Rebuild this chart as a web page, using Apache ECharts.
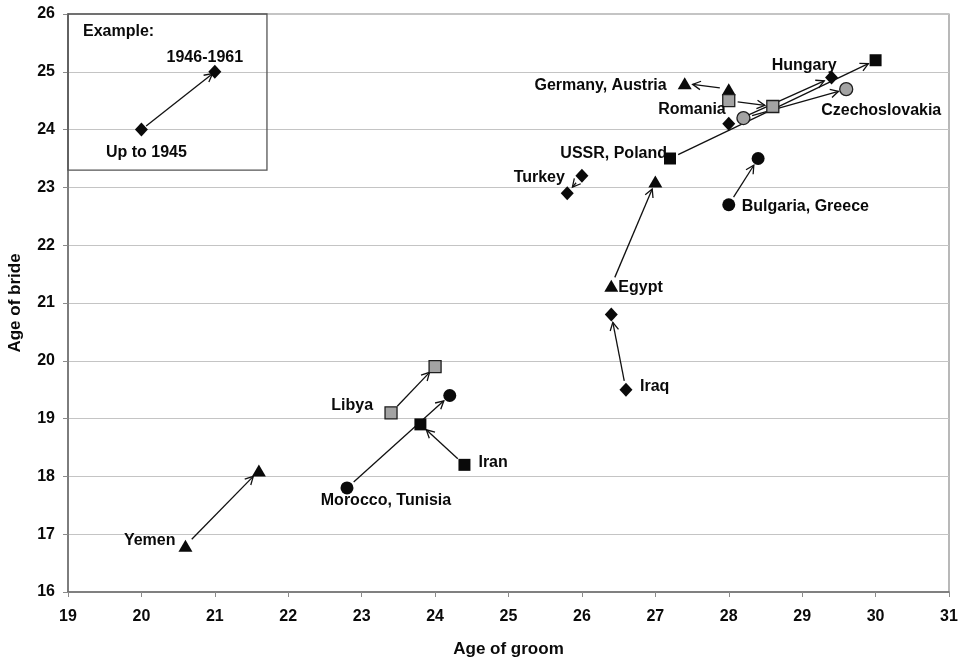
<!DOCTYPE html>
<html>
<head>
<meta charset="utf-8">
<title>Age at marriage of grooms and brides</title>
<script src="https://cdn.jsdelivr.net/npm/echarts@6/dist/echarts.min.js"></script>
<style>
  html, body { margin: 0; padding: 0; background: #fff; }
  #chart { width: 966px; height: 660px; }
</style>
</head>
<body>
<div id="chart"></div>
<script>
// Countries of origin and mean age at first marriage, up to 1945 and 1946-1961
const countries = ['Yemen', 'Morocco, Tunisia', 'Libya', 'Iran', 'Iraq', 'Egypt', 'Turkey',
  'USSR, Poland', 'Bulgaria, Greece', 'Germany, Austria', 'Romania', 'Hungary', 'Czechoslovakia'];
const groomUpTo1945 = [20.6, 22.8, 23.4, 24.4, 26.6, 26.4, 26.0, 27.2, 28.0, 28.0, 28.0, 28.0, 28.2];
const brideUpTo1945 = [16.8, 17.8, 19.1, 18.2, 19.5, 21.3, 23.2, 23.5, 22.7, 24.7, 24.5, 24.1, 24.2];
const groom1946to1961 = [21.6, 24.2, 24.0, 23.8, 26.4, 27.0, 25.8, 30.0, 28.4, 27.4, 28.6, 29.4, 29.6];
const bride1946to1961 = [18.1, 19.4, 19.9, 18.9, 20.8, 23.1, 22.9, 25.2, 23.5, 24.8, 24.4, 24.9, 24.7];

// Worked example in the key box
const exampleGroom = [20, 21];
const exampleBride = [24, 25];
const examplePeriods = ['Up to 1945', '1946-1961'];

// Axis ticks
const groomTicks = { min: 19, max: 31, step: 1 };
const brideTicks = { min: 16, max: 26, step: 1 };

// ---- styling ----
const BLACK = '#0a0a0a';
const markerStyle = {
  'Yemen':            { symbol: 'triangle', kind: 'black' },
  'Morocco, Tunisia': { symbol: 'circle',   kind: 'black' },
  'Libya':            { symbol: 'rect',     kind: 'grey' },
  'Iran':             { symbol: 'rect',     kind: 'black' },
  'Iraq':             { symbol: 'diamond',  kind: 'black' },
  'Egypt':            { symbol: 'triangle', kind: 'black' },
  'Turkey':           { symbol: 'diamond',  kind: 'black' },
  'USSR, Poland':     { symbol: 'rect',     kind: 'black' },
  'Bulgaria, Greece': { symbol: 'circle',   kind: 'black' },
  'Germany, Austria': { symbol: 'triangle', kind: 'black' },
  'Romania':          { symbol: 'rect',     kind: 'grey' },
  'Hungary':          { symbol: 'diamond',  kind: 'black' },
  'Czechoslovakia':   { symbol: 'circle',   kind: 'grey' }
};
const symbolSizes = { triangle: [14, 12], circle: 13, rect: 12, diamond: [13, 14] };

// Where each country's name sits: which end of its arrow, text alignment, pixel offset
const labelLayout = {
  'Yemen':            { at: 0, align: 'right',  offset: [-10, -5] },
  'Morocco, Tunisia': { at: 0, align: 'center', offset: [39, 13] },
  'Libya':            { at: 0, align: 'right',  offset: [-18, -7] },
  'Iran':             { at: 0, align: 'left',   offset: [14, -2] },
  'Iraq':             { at: 0, align: 'left',   offset: [14, -3] },
  'Egypt':            { at: 0, align: 'left',   offset: [7, 2] },
  'Turkey':           { at: 0, align: 'right',  offset: [-17, 2] },
  'USSR, Poland':     { at: 0, align: 'right',  offset: [-3, -5] },
  'Bulgaria, Greece': { at: 0, align: 'left',   offset: [13, 2] },
  'Germany, Austria': { at: 1, align: 'right',  offset: [-18, 2] },
  'Romania':          { at: 0, align: 'right',  offset: [-3, 9] },
  'Hungary':          { at: 1, align: 'right',  offset: [5, -12] },
  'Czechoslovakia':   { at: 1, align: 'left',   offset: [-25, 21] }
};
const exampleLabelLayout = [
  { align: 'center', offset: [5, 23] },
  { align: 'center', offset: [-10, -14] }
];
// Key box corners in axis units
const keyBox = { groomFrom: 19, groomTo: 21.71, brideFrom: 23.3, brideTo: 26 };

const FONT = '"Liberation Sans", Arial, Helvetica, sans-serif';
const labelText = { fontFamily: FONT, fontWeight: 'bold', fontSize: 16, color: BLACK };

function itemStyleFor(kind) {
  if (kind === 'grey') return { color: '#a3a3a3', borderColor: '#1e1e1e', borderWidth: 1.3, opacity: 1 };
  return { color: BLACK, opacity: 1 };
}

// ---- marker data ----
const markerData = [];
countries.forEach((name, i) => {
  const st = markerStyle[name];
  const lay = labelLayout[name];
  const ends = [[groomUpTo1945[i], brideUpTo1945[i]], [groom1946to1961[i], bride1946to1961[i]]];
  ends.forEach((v, k) => {
    const item = {
      name: name,
      value: v,
      symbol: st.symbol,
      symbolSize: symbolSizes[st.symbol],
      itemStyle: itemStyleFor(st.kind)
    };
    if (lay.at === k) {
      item.label = Object.assign({
        show: true, position: 'inside', formatter: name,
        align: lay.align, verticalAlign: 'middle', offset: lay.offset
      }, labelText);
    }
    markerData.push(item);
  });
});
exampleGroom.forEach((g, k) => {
  markerData.push({
    name: examplePeriods[k],
    value: [g, exampleBride[k]],
    symbol: 'diamond',
    symbolSize: symbolSizes.diamond,
    itemStyle: { color: BLACK, opacity: 1 },
    label: Object.assign({
      show: true, position: 'inside', formatter: examplePeriods[k],
      align: exampleLabelLayout[k].align, verticalAlign: 'middle', offset: exampleLabelLayout[k].offset
    }, labelText)
  });
});

// ---- arrow data: [groom from, bride from, groom to, bride to, start gap, end gap] ----
const arrowData = countries.map((name, i) =>
  [groomUpTo1945[i], brideUpTo1945[i], groom1946to1961[i], bride1946to1961[i], 9, 8]);
arrowData.push([exampleGroom[0], exampleBride[0], exampleGroom[1], exampleBride[1], 6, 3]);

function renderArrow(params, api) {
  const a = api.coord([api.value(0), api.value(1)]);
  const b = api.coord([api.value(2), api.value(3)]);
  const gap0 = api.value(4), gap1 = api.value(5);
  const dx = b[0] - a[0], dy = b[1] - a[1];
  const len = Math.sqrt(dx * dx + dy * dy) || 1;
  const ux = dx / len, uy = dy / len;
  const s = [a[0] + ux * gap0, a[1] + uy * gap0];
  const t = [b[0] - ux * gap1, b[1] - uy * gap1];
  const headLen = 9, ang = 28 * Math.PI / 180;
  const cos = Math.cos(ang), sin = Math.sin(ang);
  // two barbs rotated from the reversed direction
  const rx = -ux, ry = -uy;
  const b1 = [t[0] + headLen * (rx * cos - ry * sin), t[1] + headLen * (rx * sin + ry * cos)];
  const b2 = [t[0] + headLen * (rx * cos + ry * sin), t[1] + headLen * (-rx * sin + ry * cos)];
  const stroke = { stroke: '#111', lineWidth: 1.3, fill: null };
  return {
    type: 'group',
    children: [
      { type: 'line', shape: { x1: s[0], y1: s[1], x2: t[0], y2: t[1] }, style: stroke },
      { type: 'polyline', shape: { points: [b1, t, b2] }, style: stroke }
    ]
  };
}

function renderKeyBox(params, api) {
  const p0 = api.coord([api.value(0), api.value(3)]);
  const p1 = api.coord([api.value(1), api.value(2)]);
  return {
    type: 'group',
    children: [
      {
        type: 'rect',
        shape: { x: p0[0], y: p0[1], width: p1[0] - p0[0], height: p1[1] - p0[1] },
        style: { stroke: '#555', lineWidth: 1.3, fill: null }
      },
      {
        type: 'text',
        style: { text: 'Example:', x: p0[0] + 15, y: p0[1] + 18,
          verticalAlign: 'middle', align: 'left', fill: BLACK,
          font: 'bold 16px ' + FONT }
      }
    ]
  };
}

const axisLabelStyle = { fontFamily: FONT, fontWeight: 'bold', fontSize: 16, color: BLACK };
const axisNameStyle = { fontFamily: FONT, fontWeight: 'bold', fontSize: 17, color: BLACK };

const chart = echarts.init(document.getElementById('chart'), null, { renderer: 'canvas' });
chart.setOption({
  animation: false,
  backgroundColor: '#fff',
  grid: {
    left: 68, right: 17, top: 14, bottom: 68,
    outerBoundsMode: 'none', containLabel: false,
    show: true, borderColor: '#8a8a8a', borderWidth: 1.2, backgroundColor: 'transparent'
  },
  xAxis: {
    type: 'value',
    min: groomTicks.min, max: groomTicks.max, interval: groomTicks.step,
    name: 'Age of groom', nameLocation: 'middle', nameGap: 49, nameTextStyle: axisNameStyle,
    axisLine: { show: true, onZero: false, lineStyle: { color: '#6a6a6a', width: 1.5 } },
    axisTick: { show: true, inside: false, length: 5, lineStyle: { color: '#8a8a8a' } },
    axisLabel: Object.assign({ margin: 17 }, axisLabelStyle),
    splitLine: { show: false }
  },
  yAxis: {
    type: 'value',
    min: brideTicks.min, max: brideTicks.max, interval: brideTicks.step,
    name: 'Age of bride', nameLocation: 'middle', nameGap: 44, nameRotate: 90,
    nameTextStyle: axisNameStyle,
    axisLine: { show: true, onZero: false, lineStyle: { color: '#6a6a6a', width: 1.5 } },
    axisTick: { show: true, inside: false, length: 5, lineStyle: { color: '#8a8a8a' } },
    axisLabel: Object.assign({ margin: 13 }, axisLabelStyle),
    splitLine: { show: true, lineStyle: { color: '#c4c4c4', width: 1.2 } }
  },
  series: [
    {
      name: 'key',
      type: 'custom',
      renderItem: renderKeyBox,
      encode: { x: [0, 1], y: [2, 3] },
      data: [[keyBox.groomFrom, keyBox.groomTo, keyBox.brideFrom, keyBox.brideTo]],
      silent: true,
      z: 1
    },
    {
      name: 'change',
      type: 'custom',
      renderItem: renderArrow,
      encode: { x: [0, 2], y: [1, 3] },
      data: arrowData,
      silent: true,
      z: 2
    },
    {
      name: 'age at marriage',
      type: 'scatter',
      data: markerData,
      itemStyle: { opacity: 1 },
      z: 3
    }
  ]
});
</script>
</body>
</html>
